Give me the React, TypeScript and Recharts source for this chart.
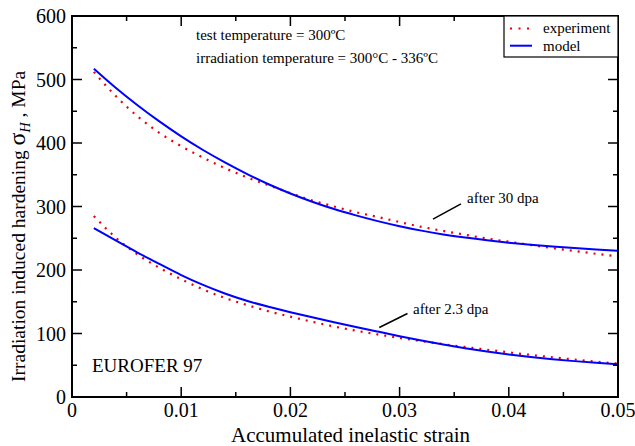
import React from 'react';
import { LineChart, Line, XAxis, YAxis, ReferenceLine } from 'recharts';

const strain = [0.002, 0.004, 0.006, 0.008, 0.010, 0.012, 0.014, 0.016, 0.018, 0.020, 0.022, 0.024, 0.026, 0.028, 0.030, 0.032, 0.034, 0.036, 0.038, 0.040, 0.042, 0.044, 0.046, 0.048, 0.050];
const upperModel = [517, 487, 459.5, 434, 410.5, 389, 369.5, 351.5, 335, 320.5, 307.5, 296, 286, 277, 269, 262, 256, 251, 246.7, 243, 239.8, 237, 234.5, 232.3, 230.3];
const upperExperiment = [512, 474, 442, 416, 395, 377, 360.5, 346, 333.5, 321, 309.5, 300, 291, 283.5, 275.5, 268, 261.5, 255.5, 249.5, 244.5, 239.5, 234.5, 230, 225.5, 221.5];
const lowerModel = [266, 246.5, 227.5, 209.5, 192, 176.5, 163, 151.5, 142, 133.5, 125.5, 117.8, 110.3, 103, 95.8, 89, 82.6, 76.8, 71.6, 67, 63, 59.5, 56.5, 53.9, 51.6];
const lowerExperiment = [285, 251, 224.5, 203.5, 185.5, 169.5, 156, 145, 135, 126.5, 118.5, 111, 104.5, 98.5, 93, 88, 83.2, 78.8, 74.5, 70.3, 66.3, 62.6, 59, 55.7, 52.6];

const xTicks = [0, 0.005, 0.01, 0.015, 0.02, 0.025, 0.03, 0.035, 0.04, 0.045, 0.05];
const xMajor = [0, 0.01, 0.02, 0.03, 0.04, 0.05];
const xLabels = ['0', '0.01', '0.02', '0.03', '0.04', '0.05'];
const yTicks = [0, 50, 100, 150, 200, 250, 300, 350, 400, 450, 500, 550, 600];
const yMajor = [0, 100, 200, 300, 400, 500, 600];
const yLabels = ['0', '100', '200', '300', '400', '500', '600'];

const X_MIN = 0;
const X_MAX = 0.05;
const Y_MIN = 0;
const Y_MAX = 600;

const leader30 = [{ x: 0.03306, y: 280 }, { x: 0.03562, y: 304 }];
const leader23 = [{ x: 0.02814, y: 109.5 }, { x: 0.03072, y: 131.5 }];

const data = strain.map((s, i) => ({
  strain: s,
  upperModel: upperModel[i],
  upperExperiment: upperExperiment[i],
  lowerModel: lowerModel[i],
  lowerExperiment: lowerExperiment[i],
}));

const FONT = "'Liberation Serif', 'Times New Roman', serif";
const RED = '#e8000b';
const BLUE = '#0000ff';

// layout
const W = 635;
const H = 446;
const M_TOP = 16;
const M_RIGHT = 17;
const X_AXIS_H = 49;
const Y_AXIS_W = 72;
const PLOT_W = W - M_RIGHT - Y_AXIS_W;
const PLOT_H = H - M_TOP - X_AXIS_H;
const PLOT_L = Y_AXIS_W;
const PLOT_R = Y_AXIS_W + PLOT_W;
const PLOT_T = M_TOP;
const PLOT_B = M_TOP + PLOT_H;
const MAJOR_PX = 10;
const MINOR_PX = 5;

const px = (v: number) => PLOT_L + ((v - X_MIN) / (X_MAX - X_MIN)) * PLOT_W;
const py = (v: number) => PLOT_T + ((Y_MAX - v) / (Y_MAX - Y_MIN)) * PLOT_H;

const isMajor = (arr: number[], v: number) => arr.some((m) => Math.abs(m - v) < 1e-9);
const majorIndex = (arr: number[], v: number) => arr.findIndex((m) => Math.abs(m - v) < 1e-9);

const BottomLabel = (props: any) => {
  const { x, y, payload } = props;
  const idx = majorIndex(xMajor, payload.value);
  if (idx < 0) return <g />;
  return (
    <text x={x} y={y + 20} textAnchor="middle" fontSize={20} fontFamily={FONT} fill="#000">
      {xLabels[idx]}
    </text>
  );
};

const LeftLabel = (props: any) => {
  const { x, y, payload } = props;
  const idx = majorIndex(yMajor, payload.value);
  if (idx < 0) return <g />;
  return (
    <text x={x - 6} y={y + 7} textAnchor="end" fontSize={20} fontFamily={FONT} fill="#000">
      {yLabels[idx]}
    </text>
  );
};

const axisLine = { stroke: '#000', strokeWidth: 2 };

const tickMarks: { x1: number; y1: number; x2: number; y2: number; k: string }[] = [];
xTicks.forEach((t) => {
  const len = isMajor(xMajor, t) ? MAJOR_PX : MINOR_PX;
  const x = px(t);
  tickMarks.push({ k: 'xb' + t, x1: x, y1: PLOT_B, x2: x, y2: PLOT_B - len });
  tickMarks.push({ k: 'xt' + t, x1: x, y1: PLOT_T, x2: x, y2: PLOT_T + len });
});
yTicks.forEach((t) => {
  const len = isMajor(yMajor, t) ? MAJOR_PX : MINOR_PX;
  const y = py(t);
  tickMarks.push({ k: 'yl' + t, x1: PLOT_L, y1: y, x2: PLOT_L + len, y2: y });
  tickMarks.push({ k: 'yr' + t, x1: PLOT_R, y1: y, x2: PLOT_R - len, y2: y });
});

export default function App() {
  return (
    <div style={{ position: 'absolute', left: 0, top: 0, width: W, height: H, background: '#fff' }}>
      <LineChart width={W} height={H} data={data} margin={{ top: M_TOP, right: M_RIGHT, left: 0, bottom: 0 }}>
        <XAxis
          dataKey="strain"
          type="number"
          domain={[X_MIN, X_MAX]}
          ticks={xTicks}
          interval={0}
          height={X_AXIS_H}
          tickSize={0}
          tickMargin={0}
          tickLine={false}
          axisLine={axisLine}
          tick={<BottomLabel />}
        />
        <YAxis
          type="number"
          domain={[Y_MIN, Y_MAX]}
          ticks={yTicks}
          interval={0}
          width={Y_AXIS_W}
          tickSize={0}
          tickMargin={0}
          tickLine={false}
          axisLine={axisLine}
          tick={<LeftLabel />}
        />
        <ReferenceLine segment={leader30} stroke="#000" strokeWidth={1.5} ifOverflow="visible" />
        <ReferenceLine segment={leader23} stroke="#000" strokeWidth={1.5} ifOverflow="visible" />
        <Line dataKey="upperExperiment" type="monotone" stroke={RED} strokeWidth={2.2} strokeDasharray="2 6" dot={false} isAnimationActive={false} />
        <Line dataKey="upperModel" type="monotone" stroke={BLUE} strokeWidth={2} dot={false} isAnimationActive={false} />
        <Line dataKey="lowerExperiment" type="monotone" stroke={RED} strokeWidth={2.2} strokeDasharray="2 6" dot={false} isAnimationActive={false} />
        <Line dataKey="lowerModel" type="monotone" stroke={BLUE} strokeWidth={2} dot={false} isAnimationActive={false} />
      </LineChart>
      <svg width={W} height={H} style={{ position: 'absolute', left: 0, top: 0, pointerEvents: 'none' }} fontFamily={FONT}>
        {tickMarks.map((m) => (
          <line key={m.k} x1={m.x1} y1={m.y1} x2={m.x2} y2={m.y2} stroke="#000" strokeWidth={1.5} />
        ))}
        <rect x={PLOT_L} y={PLOT_T} width={PLOT_W} height={PLOT_H} fill="none" stroke="#000" strokeWidth={2} />
        <text x={196} y={40} fontSize={15} fill="#000">test temperature = 300ºC</text>
        <text x={196} y={62.7} fontSize={15} fill="#000">irradiation temperature = 300°C - 336ºC</text>
        <text x={467} y={203.3} fontSize={15} fill="#000">after 30 dpa</text>
        <text x={413} y={314} fontSize={15} fill="#000">after 2.3 dpa</text>
        <text x={92} y={372.3} fontSize={19} fill="#000">EUROFER 97</text>
        <text x={231} y={441.5} fontSize={21} fill="#000">Accumulated inelastic strain</text>
        <text transform="translate(25,382) rotate(-90)" fontSize={19.5} fill="#000">
          {'Irradiation induced hardening '}
          <tspan fontSize={24}>σ</tspan>
          <tspan fontSize={14} fontStyle="italic" dy={5}>H</tspan>
          <tspan fontSize={19.5} dy={-5}>{' , MPa'}</tspan>
        </text>
        <rect x={504} y={16} width={114} height={41} fill="#fff" stroke="#000" strokeWidth={1.2} />
        <line x1={510} y1={28.5} x2={531} y2={28.5} stroke={RED} strokeWidth={2.2} strokeDasharray="2 6.5" />
        <text x={543} y={32.5} fontSize={15} fill="#000">experiment</text>
        <line x1={510} y1={45.7} x2={532} y2={45.7} stroke={BLUE} strokeWidth={2} />
        <text x={543} y={51} fontSize={15} fill="#000">model</text>
      </svg>
    </div>
  );
}
